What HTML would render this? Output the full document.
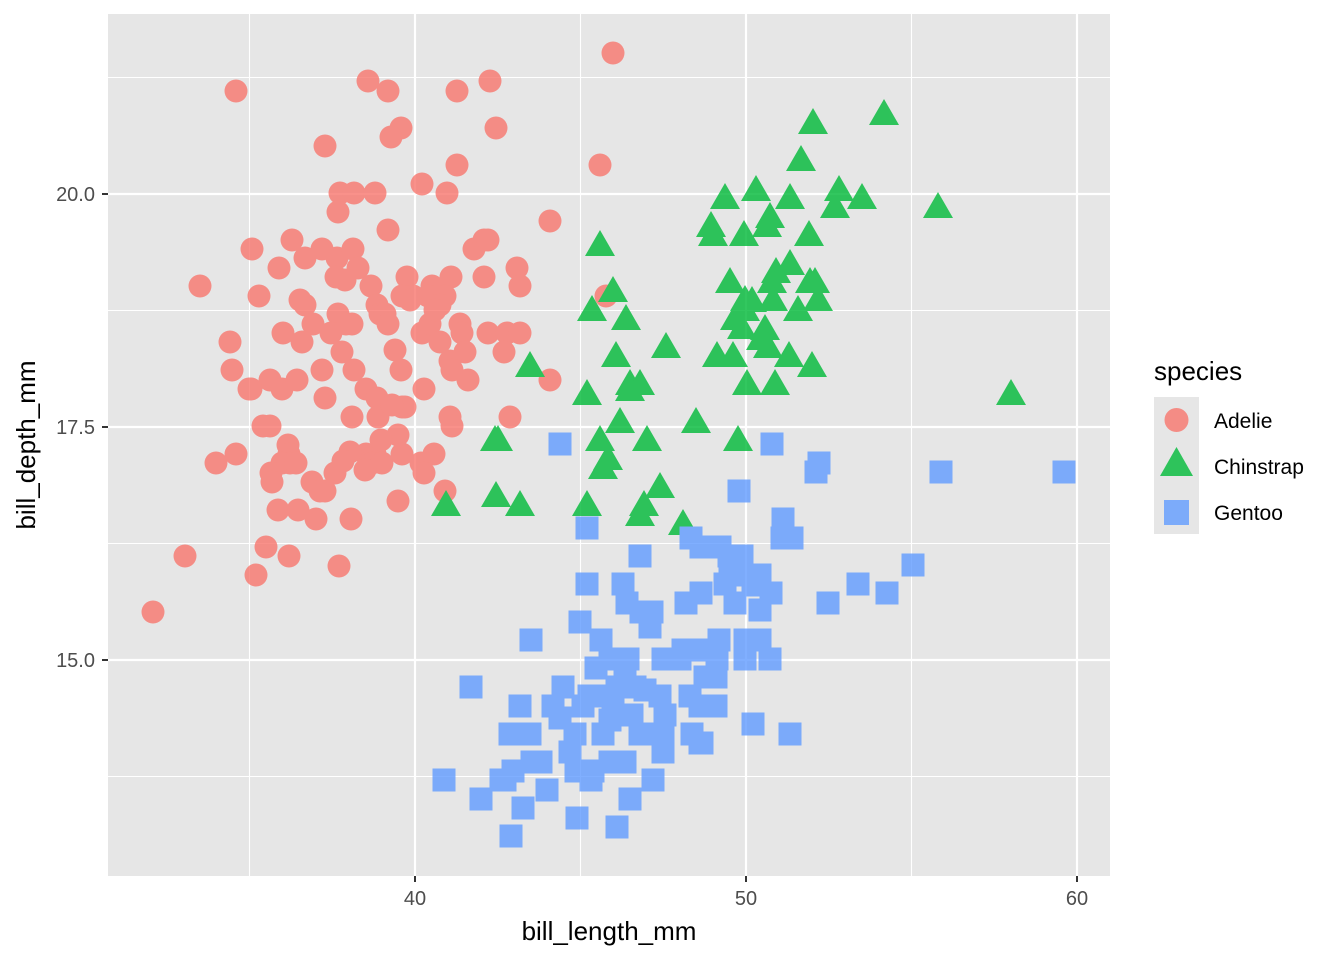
<!DOCTYPE html>
<html><head><meta charset="utf-8"><style>
html,body{margin:0;padding:0;background:#fff;}
svg{display:block;font-family:"Liberation Sans",Arial,sans-serif;}
</style></head><body>
<svg id="s" width="1344" height="960" xmlns="http://www.w3.org/2000/svg">
<rect x="108" y="14" width="1002" height="862" fill="#E6E6E6"/>
<g stroke="#fff" stroke-width="1.1">
<line x1="249.5" y1="14" x2="249.5" y2="876"/><line x1="580.5" y1="14" x2="580.5" y2="876"/><line x1="911.5" y1="14" x2="911.5" y2="876"/>
<line x1="108" y1="77.5" x2="1110" y2="77.5"/><line x1="108" y1="310.5" x2="1110" y2="310.5"/><line x1="108" y1="543.5" x2="1110" y2="543.5"/><line x1="108" y1="776.5" x2="1110" y2="776.5"/>
</g>
<g stroke="#fff" stroke-width="2.2">
<line x1="415" y1="14" x2="415" y2="876"/><line x1="746" y1="14" x2="746" y2="876"/><line x1="1077" y1="14" x2="1077" y2="876"/>
<line x1="108" y1="194" x2="1110" y2="194"/><line x1="108" y1="427" x2="1110" y2="427"/><line x1="108" y1="660" x2="1110" y2="660"/>
</g>
<g id="pts" opacity="0.8"></g>
<g stroke="#333" stroke-width="2"><line x1="102" y1="194" x2="108" y2="194"/><line x1="102" y1="427" x2="108" y2="427"/><line x1="102" y1="660" x2="108" y2="660"/>
<line x1="415" y1="876" x2="415" y2="882"/><line x1="746" y1="876" x2="746" y2="882"/><line x1="1077" y1="876" x2="1077" y2="882"/></g>
<g fill="#4D4D4D" font-size="20">
<text x="95" y="201" text-anchor="end">20.0</text><text x="95" y="434" text-anchor="end">17.5</text><text x="95" y="667" text-anchor="end">15.0</text>
<text x="415" y="905" text-anchor="middle">40</text><text x="746" y="905" text-anchor="middle">50</text><text x="1077" y="905" text-anchor="middle">60</text>
</g>
<text x="609" y="940" text-anchor="middle" font-size="26">bill_length_mm</text>
<text transform="translate(35,445) rotate(-90)" text-anchor="middle" font-size="26">bill_depth_mm</text>
<text x="1154" y="380" font-size="26">species</text>
<rect x="1154" y="397" width="45" height="137" fill="#E6E6E6"/>
<circle cx="1176.5" cy="420" r="12" fill="#F8766D" opacity="0.8"/>
<polygon points="1176.5,447 1193,476 1160,476" fill="#00BA38" opacity="0.8"/>
<rect x="1164" y="500" width="25" height="25" fill="#619CFF" opacity="0.8"/>
<g font-size="21"><text x="1214" y="428">Adelie</text><text x="1214" y="474">Chinstrap</text><text x="1214" y="520">Gentoo</text></g>
</svg>
<script>
var A=[[613,53],[236,91],[368,81],[388,91],[457,91],[490,81],[496,128],[401,128],[391,137],[325,146],[457,165],[600,165],[422,184],[447,193],[340,193],[354,193],[375,193],[338,212],[550,221],[388,230],[252,249],[292,240],[322,249],[305,258],[279,268],[337,258],[353,249],[474,249],[484,240],[488,240],[358,268],[336,277],[407,277],[451,277],[484,277],[517,268],[200,286],[259,296],[371,286],[432,286],[520,286],[606,296],[305,305],[377,305],[402,296],[413,296],[428,296],[445,296],[440,305],[230,342],[283,333],[313,324],[338,314],[346,324],[352,324],[380,314],[385,314],[388,324],[422,333],[430,324],[460,324],[462,333],[488,333],[507,333],[520,333],[302,342],[331,333],[440,342],[465,352],[504,352],[232,370],[270,380],[322,370],[342,352],[354,370],[401,370],[450,361],[452,370],[468,380],[550,380],[249,389],[251,389],[282,389],[297,380],[325,398],[366,389],[377,398],[424,389],[402,407],[405,407],[352,417],[378,417],[450,417],[452,426],[510,417],[263,426],[270,426],[288,445],[398,435],[236,454],[289,454],[290,463],[366,454],[375,454],[372,463],[402,454],[434,454],[216,463],[282,463],[296,463],[335,473],[382,463],[421,463],[424,473],[271,473],[272,482],[312,482],[325,491],[320,491],[445,491],[398,501],[278,510],[298,510],[316,519],[351,519],[185,556],[266,547],[289,556],[339,566],[256,575],[153,612],[350,452],[343,461],[365,470],[381,440],[392,405],[410,300],[435,310],[300,300],[345,280],[395,350]];
var C=[[884,114],[813,123],[801,160],[725,198],[756,190],[790,198],[839,190],[862,198],[835,207],[938,207],[711,226],[713,235],[744,235],[767,226],[770,217],[809,235],[600,245],[730,282],[776,272],[790,264],[772,282],[810,282],[613,291],[752,301],[773,300],[815,282],[818,300],[735,319],[765,329],[798,310],[592,310],[626,319],[666,347],[717,356],[733,356],[768,347],[789,356],[812,366],[530,366],[616,356],[587,394],[630,384],[640,384],[747,384],[775,384],[1011,394],[620,422],[696,422],[600,440],[647,440],[495,440],[498,440],[738,440],[608,459],[603,468],[660,487],[644,505],[640,515],[496,496],[520,505],[446,505],[587,505],[683,524],[742,328],[745,300],[761,339],[630,390],[745,310]];
var G=[[560,444],[772,444],[819,463],[816,472],[941,472],[1064,472],[739,491],[587,528],[783,519],[792,538],[782,538],[691,538],[720,547],[701,547],[729,556],[742,556],[640,556],[587,584],[623,584],[913,565],[858,584],[887,593],[828,603],[686,603],[701,593],[725,584],[745,575],[760,575],[771,593],[627,603],[641,612],[652,612],[580,622],[531,640],[601,640],[610,659],[628,659],[663,659],[680,659],[700,650],[717,659],[745,640],[760,640],[770,659],[745,659],[719,640],[471,687],[563,687],[589,696],[603,696],[617,687],[635,687],[660,696],[690,696],[716,677],[520,706],[553,706],[583,706],[613,706],[632,715],[665,715],[716,706],[530,734],[510,734],[575,734],[603,734],[640,734],[663,734],[692,734],[753,724],[790,734],[532,762],[541,762],[513,771],[576,771],[593,771],[610,762],[625,762],[663,752],[702,743],[444,780],[501,780],[505,780],[591,780],[653,780],[481,799],[547,790],[523,808],[630,799],[577,818],[617,827],[511,836],[700,743],[650,627],[705,677],[735,603],[760,610],[596,668],[625,676],[683,650],[700,706],[560,718],[610,720],[570,752],[645,690],[730,565],[753,585]];
var g=document.getElementById('pts'),h='';
A.forEach(p=>h+='<circle cx="'+p[0]+'" cy="'+p[1]+'" r="11.5" fill="#F8766D"/>');
C.forEach(p=>h+='<polygon points="'+p[0]+','+(p[1]-15)+' '+(p[0]+15)+','+(p[1]+11)+' '+(p[0]-15)+','+(p[1]+11)+'" fill="#00BA38"/>');
G.forEach(p=>h+='<rect x="'+(p[0]-11.5)+'" y="'+(p[1]-11.5)+'" width="23" height="23" fill="#619CFF"/>');
g.innerHTML=h;
</script>
</body></html>
